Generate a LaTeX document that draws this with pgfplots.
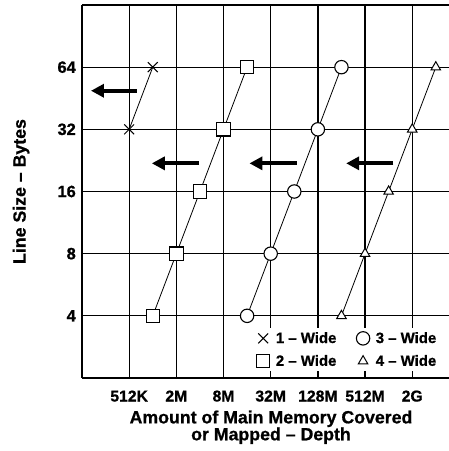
\documentclass[border=0pt]{standalone}
\usepackage{fontspec}
\setmainfont{Liberation Sans}[BoldFeatures={FakeBold=0.8}]
\usepackage{pgfplots}
\pgfplotsset{compat=1.18}
\usetikzlibrary{arrows.meta}
\begin{document}
\begin{tikzpicture}
\useasboundingbox (0,0) rectangle (449bp,451bp);
\begin{axis}[
  at={(82bp,73bp)}, anchor=south west,
  scale only axis, width=367bp, height=373bp,
  xmode=log, ymode=log, log basis x=2, log basis y=2,
  xmin=131072, xmax=6.33e9, ymin=2, ymax=128,
  xtick={524288,2097152,8388608,33554432,134217728,536870912,2147483648},
  xticklabels={512K,2M,8M,32M,128M,512M,2G},
  ytick={4,8,16,32,64}, yticklabels={4,8,16,32,64},
  grid=major, grid style={black, line width=1.25bp},
  major tick length=0pt,
  axis x line=box, axis y line=left,
  axis line style={-, line width=1.8bp},
  xticklabel style={font=\fontsize{15.8}{15.8}\selectfont\bfseries, anchor=base, inner sep=0pt, yshift=-23.5bp},
  yticklabel style={font=\fontsize{16.5}{16.5}\selectfont\bfseries, anchor=east, inner sep=0pt, xshift=-6bp},
  xlabel={Amount of Main Memory Covered\\or Mapped -- Depth},
  xlabel style={font=\fontsize{17.8}{17}\selectfont\bfseries, align=center,
    at={(axis description cs:0.515,0)}, anchor=north, yshift=-29bp},
  ylabel={Line Size -- Bytes},
  ylabel style={font=\fontsize{17.8}{17}\selectfont\bfseries,
    at={(axis description cs:-0.166,0.5)}, anchor=center},
  clip=false,
  every axis plot/.append style={black, line width=0.8bp},
  legend columns=2, legend cell align=left,
  legend image code/.code={\draw[#1] plot coordinates {(0bp,0bp)};},
  legend style={draw=none, fill=white, font=\fontsize{15}{15}\selectfont\bfseries,
    at={(rel axis cs:0.4668,0.134)}, anchor=north west,
    inner xsep=3pt, inner ysep=2pt,
    /tikz/every odd column/.append style={column sep=4bp},
    /tikz/every even column/.append style={column sep=18bp},
    row sep=6.5bp},
]
\addplot[mark=x, mark size=7bp, mark options={line width=1bp}]
  coordinates {(524288,32) (1048576,64)};
\addlegendentry{1 -- Wide}
\addplot[mark=*, mark size=6.7bp, mark options={fill=white, line width=1.1bp}]
  coordinates {(16777216,4) (33554432,8) (67108864,16) (134217728,32) (268435456,64)};
\addlegendentry{3 -- Wide}
\addplot[mark=square*, mark size=6.7bp, mark options={fill=white, line width=1.1bp}]
  coordinates {(1048576,4) (2097152,8) (4194304,16) (8388608,32) (16777216,64)};
\addlegendentry{2 -- Wide}
\addplot[mark=triangle*, mark size=5.5bp, mark options={fill=white, line width=1bp}]
  coordinates {(268435456,4) (536870912,8) (1073741824,16) (2147483648,32) (4294967296,64)};
\addlegendentry{4 -- Wide}
% direction arrows
\addplot[forget plot, line width=4bp, -{Triangle[length=13bp,width=13bp]}]
  coordinates {(659000,49.2) (170600,49.2)};
\addplot[forget plot, line width=4bp, -{Triangle[length=13bp,width=13bp]}]
  coordinates {(4110000,21.9) (1020000,21.9)};
\addplot[forget plot, line width=4bp, -{Triangle[length=13bp,width=13bp]}]
  coordinates {(71900000,21.9) (17980000,21.9)};
\addplot[forget plot, line width=4bp, -{Triangle[length=13bp,width=13bp]}]
  coordinates {(1233000000,21.9) (308400000,21.9)};
\end{axis}
\end{tikzpicture}
\end{document}
